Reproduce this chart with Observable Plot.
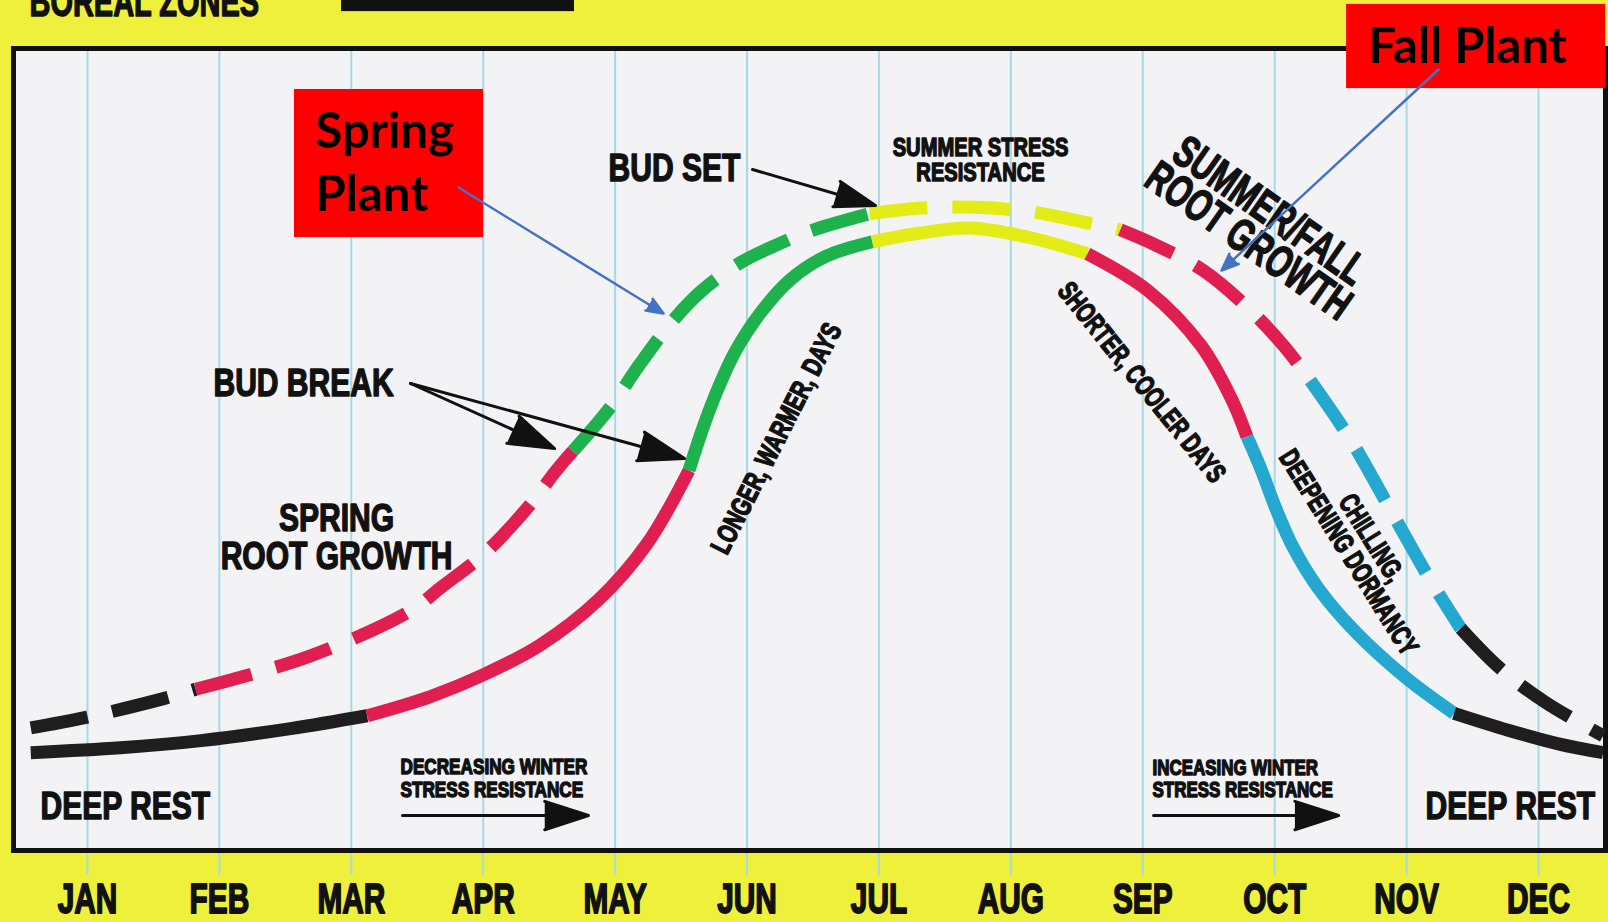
<!DOCTYPE html>
<html>
<head>
<meta charset="utf-8">
<script src="https://cdn.jsdelivr.net/npm/d3@7"></script>
<script src="https://cdn.jsdelivr.net/npm/@observablehq/plot@0.6"></script>
<style>
  html, body { margin: 0; padding: 0; background: #eef03c; overflow: hidden; }
  #chart svg { display: block; }
</style>
</head>
<body>
<div id="chart"></div>
<script>
// ---------- DATA ----------
const months = ["JAN","FEB","MAR","APR","MAY","JUN","JUL","AUG","SEP","OCT","NOV","DEC"];
const monthIndex = [1,2,3,4,5,6,7,8,9,10,11,12];

// Solid curve (shoot cycle), [month, level], split by phase
const shootRestA   = [[0.57,12.2],[1.25,12.8],[1.86,13.7],[2.54,15.2],[3.12,16.8]];
const shootRoot    = [[3.12,16.8],[3.60,19.2],[4.00,21.9],[4.43,25.6],[4.87,31.2],[5.24,38.2],[5.56,47.4]];
const shootGrowth  = [[5.56,47.4],[5.67,52.9],[5.78,57.6],[5.91,62.2],[6.10,67.0],[6.33,71.2],[6.60,74.1],[6.95,75.9]];
const shootSummer  = [[6.95,75.9],[7.28,76.9],[7.71,77.6],[8.15,76.4],[8.58,74.4]];
const shootFall    = [[8.58,74.4],[9.04,69.8],[9.44,63.0],[9.67,56.4],[9.79,51.6]];
const shootChill   = [[9.79,51.6],[9.89,47.8],[10.01,42.6],[10.14,37.8],[10.33,32.7],[10.61,27.3],[10.99,21.6],[11.36,17.1]];
const shootRestB   = [[11.36,17.1],[11.77,15.0],[12.15,13.3],[12.49,12.2]];

// Dashed curve (root cycle), [month, level], split by phase
const rootRestA    = [[0.57,15.3],[0.99,16.6],[1.59,19.0],[1.82,20.1]];
const rootRoot     = [[1.82,20.1],[2.68,24.2],[3.45,29.9],[3.68,32.8],[4.02,37.2],[4.38,43.6],[4.54,47.1],[4.68,49.8]];
const rootGrowth   = [[4.68,49.8],[4.96,55.2],[5.19,60.7],[5.44,66.1],[5.65,69.7],[5.95,73.3],[6.25,75.7],[6.49,77.3],[6.93,79.4]];
const rootSummer   = [[6.93,79.4],[7.32,80.1],[7.73,80.2],[8.17,79.6],[8.57,78.3],[8.83,77.4]];
const rootFall     = [[8.83,77.4],[9.11,75.4],[9.46,72.3],[9.82,67.3],[10.08,62.7],[10.27,58.6]];
const rootChill    = [[10.27,58.6],[10.58,51.1],[10.88,42.4],[11.18,33.7],[11.41,27.7]];
const rootRestB    = [[11.41,27.7],[11.71,22.7],[12.05,18.5],[12.49,14.3]];

// Annotation texts and anchors (month, level)
const labels = [
  {id:"boreal",   text:"BOREAL ZONES", month:0.56, level:104.1},
  {id:"budSet",   text:"BUD SET", month:4.95, level:83.54},
  {id:"summer",   text:"SUMMER STRESS\nRESISTANCE", month:7.77, level:83.54},
  {id:"sumFall",  text:"SUMMER/FALL\nROOT GROWTH", month:9.87, level:77.6},
  {id:"budBreak", text:"BUD BREAK", month:1.955, level:56.73},
  {id:"spring",   text:"SPRING\nROOT GROWTH", month:2.888, level:35.16},
  {id:"longer",   text:"LONGER, WARMER, DAYS", month:6.224, level:51.37},
  {id:"shorter",  text:"SHORTER, COOLER DAYS", month:8.991, level:58.35},
  {id:"chill",    text:"CHILLING,\nDEEPENING DORMANCY", month:10.644, level:38.03},
  {id:"restL",    text:"DEEP REST", month:0.644, level:3.99},
  {id:"restR",    text:"DEEP REST", month:11.144, level:3.99},
  {id:"decr",     text:"DECREASING WINTER\nSTRESS RESISTANCE", month:3.373, level:6.61},
  {id:"incr",     text:"INCEASING WINTER\nSTRESS RESISTANCE", month:9.074, level:6.61},
  {id:"springPl", text:"Spring\nPlant", month:2.729, level:79.68},
  {id:"fallPl",   text:"Fall Plant", month:10.712, level:98.13}
];
const plantBoxes = [
  {m1:2.569, m2:4.002, v1:76.43, v2:94.89},
  {m1:10.545, m2:12.509, v1:95.0, v2:105.5}
];
const headerBar = [{m1:2.926, m2:4.692, v1:104.6, v2:108}];
const budArrows = [
  {m1:6.042, v1:84.91, m2:6.974, v2:80.42},
  {m1:3.449, v1:58.23, m2:4.541, v2:50.12},
  {m1:3.449, v1:58.23, m2:5.526, v2:48.88}
];
const stressArrows = [
  {m1:3.388, v1:4.36, m2:4.798, v2:4.36},
  {m1:9.082, v1:4.36, m2:10.485, v2:4.36}
];
const plantArrows = [
  {m1:3.813, v1:82.67, m2:5.367, v2:66.96},
  {m1:11.243, v1:97.38, m2:9.597, v2:72.32}
];

// ---------- STYLE ----------
const INK = "#111111";
const FONT = "Liberation Sans, Arial, sans-serif";
const phaseColor = {rest:"#1f1d1e", root:"#e01e4f", growth:"#1db24b", summer:"#e4ec18", fall:"#e01e4f", chill:"#24a8cf"};
const labelStyle = {
  boreal:   {fontSize:42, textAnchor:"start", lineAnchor:"bottom", sx:0.69},
  budSet:   {fontSize:39, textAnchor:"start", lineAnchor:"bottom", sx:0.77},
  summer:   {fontSize:26, textAnchor:"middle", lineAnchor:"bottom", lineHeight:0.96, sx:0.775},
  sumFall:  {fontSize:45, textAnchor:"middle", lineAnchor:"middle", lineHeight:0.82, rotate:35, sx:0.69},
  budBreak: {fontSize:39, textAnchor:"start", lineAnchor:"bottom", sx:0.77},
  spring:   {fontSize:39, textAnchor:"middle", lineAnchor:"bottom", lineHeight:0.97, sx:0.77},
  longer:   {fontSize:28, textAnchor:"middle", lineAnchor:"middle", rotate:-63, sx:0.72},
  shorter:  {fontSize:28, textAnchor:"middle", lineAnchor:"middle", rotate:51, sx:0.70},
  chill:    {fontSize:28, textAnchor:"middle", lineAnchor:"middle", lineHeight:0.96, rotate:58, sx:0.70},
  restL:    {fontSize:39, textAnchor:"start", lineAnchor:"bottom", sx:0.77},
  restR:    {fontSize:39, textAnchor:"start", lineAnchor:"bottom", sx:0.77},
  decr:     {fontSize:22, textAnchor:"start", lineAnchor:"bottom", lineHeight:1.09, sx:0.78},
  incr:     {fontSize:22, textAnchor:"start", lineAnchor:"bottom", lineHeight:1.0, sx:0.77},
  springPl: {fontSize:49, textAnchor:"start", lineAnchor:"bottom", lineHeight:1.286, sx:1, font:"Lato, Open Sans, sans-serif", plain:true},
  fallPl:   {fontSize:49, textAnchor:"start", lineAnchor:"bottom", sx:1, font:"Lato, Open Sans, sans-serif", plain:true}
};

const shootSegments = [["rest",shootRestA],["root",shootRoot],["growth",shootGrowth],["summer",shootSummer],["fall",shootFall],["chill",shootChill],["rest",shootRestB]];
const rootSegments  = [["rest",rootRestA],["root",rootRoot],["growth",rootGrowth],["summer",rootSummer],["fall",rootFall],["chill",rootChill],["rest",rootRestB]];

function curveMarks(segments, dashed) {
  return segments.map(([phase, pts]) => Plot.line(pts, {
    x: d => d[0], y: d => d[1],
    stroke: phaseColor[phase], strokeWidth: 13,
    curve: "catmull-rom", strokeLinecap: "butt", strokeLinejoin: "round",
    ...(dashed ? {strokeDasharray: "58,25"} : {})
  }));
}

function labelMark(l) {
  const s = labelStyle[l.id];
  const o = {
    x: "month", y: "level", text: "text",
    fontSize: s.fontSize, fontWeight: "bold",
    fontFamily: s.font || FONT,
    textAnchor: s.textAnchor, lineAnchor: s.lineAnchor,
    fill: s.plain ? "#000" : INK
  };
  if (s.lineHeight) o.lineHeight = s.lineHeight;
  if (s.rotate) o.rotate = s.rotate;
  if (!s.plain) { o.stroke = INK; o.strokeWidth = 1.5; }
  return Plot.text([l], o);
}

const chart = Plot.plot({
  width: 1608, height: 922,
  marginTop: 48, marginBottom: 72, marginLeft: 13, marginRight: 3,
  x: {domain: [1, 12], range: [87, 1538], axis: null},
  y: {domain: [0, 100], axis: null},
  style: {background: "#eef03c", overflow: "visible"},
  marks: [
    Plot.frame({fill: "#f3f3f6", stroke: "none"}),
    Plot.ruleX(monthIndex, {x: d => d, stroke: "#a6d9e6", strokeWidth: 2, insetBottom: -25}),
    Plot.frame({stroke: INK, strokeWidth: 5, fill: "none"}),
    Plot.rect(headerBar, {x1: "m1", x2: "m2", y1: "v1", y2: "v2", fill: INK}),
    Plot.text(months, {x: (d, i) => monthIndex[i], text: d => d, frameAnchor: "bottom", dy: 62, lineAnchor: "bottom",
      fontSize: 42, fontWeight: "bold", fontFamily: FONT, fill: INK, stroke: INK, strokeWidth: 1.8}),
    ...curveMarks(shootSegments, false),
    ...curveMarks(rootSegments, true),
    Plot.arrow(budArrows, {x1: "m1", y1: "v1", x2: "m2", y2: "v2", stroke: INK, fill: INK, strokeWidth: 3, headLength: 24, headAngle: 36}),
    Plot.arrow(stressArrows, {x1: "m1", y1: "v1", x2: "m2", y2: "v2", stroke: INK, fill: INK, strokeWidth: 3, headLength: 23, headAngle: 36}),
    ...labels.filter(l => !labelStyle[l.id].plain).map(labelMark),
    Plot.rect(plantBoxes, {x1: "m1", x2: "m2", y1: "v1", y2: "v2", fill: "#ff0000"}),
    ...labels.filter(l => labelStyle[l.id].plain).map(labelMark),
    Plot.arrow(plantArrows, {x1: "m1", y1: "v1", x2: "m2", y2: "v2", stroke: "#4472c4", fill: "#4472c4", strokeWidth: 2.5, headLength: 11, headAngle: 44})
  ]
});

// condense the bold poster lettering horizontally
const sxByText = new Map();
labels.forEach(l => sxByText.set(l.text.replace(/\n/g, ""), labelStyle[l.id].sx));
months.forEach(m => sxByText.set(m, 0.71));
chart.querySelectorAll("text").forEach(t => {
  const s = sxByText.get(t.textContent);
  if (s && s !== 1) {
    const tr = t.getAttribute("transform") || "";
    t.setAttribute("transform", tr + ` scale(${s},1)`);
  }
});

document.getElementById("chart").appendChild(chart);
</script>
</body>
</html>
